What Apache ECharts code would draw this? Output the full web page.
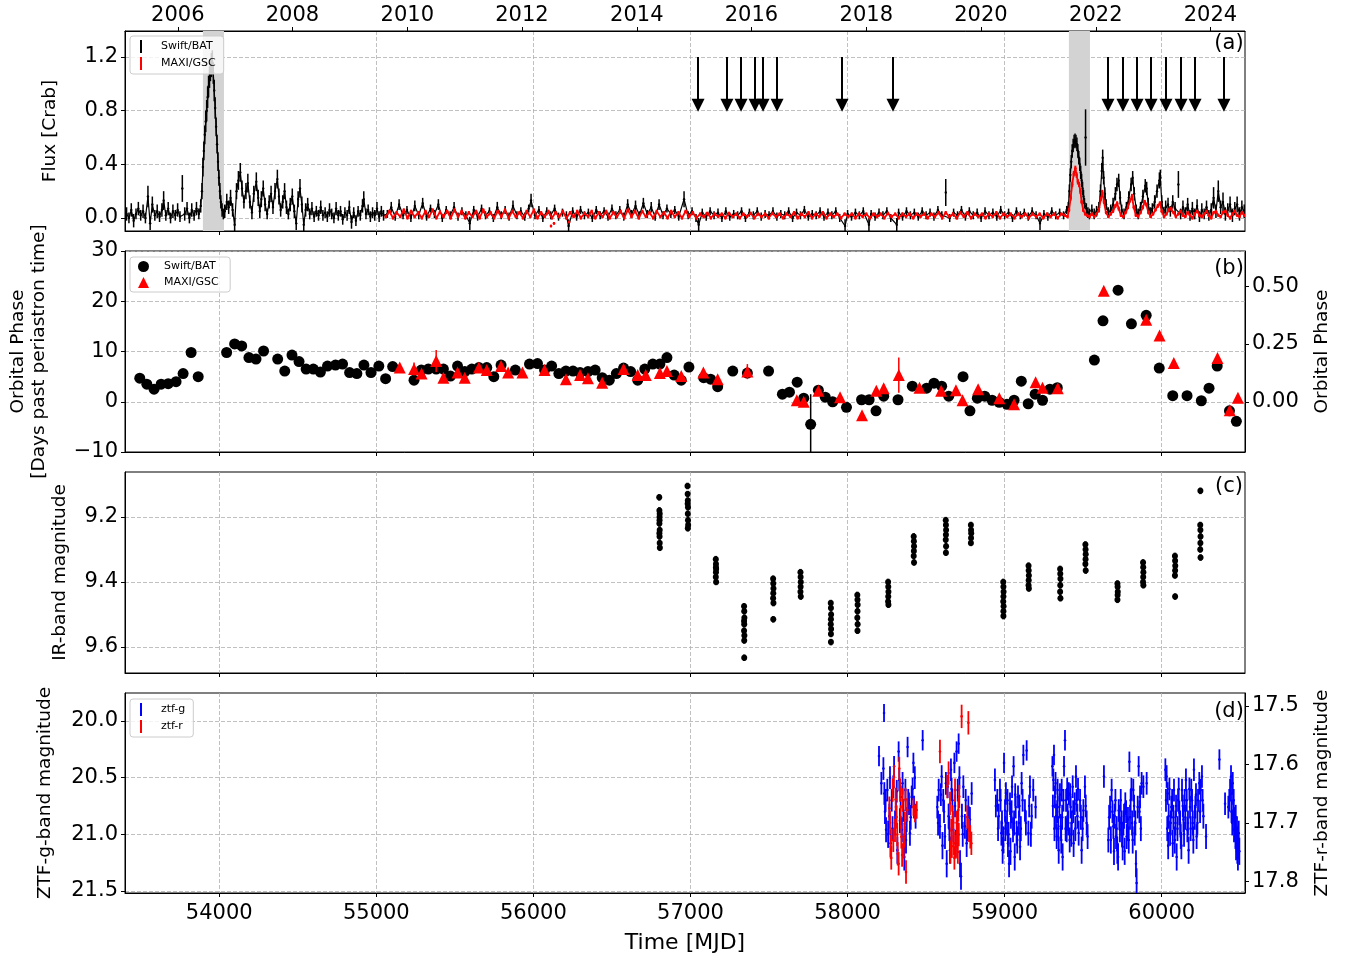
<!DOCTYPE html>
<html>
<head>
<meta charset="utf-8">
<title>Light curves</title>
<script src="https://cdn.jsdelivr.net/npm/echarts@6/dist/echarts.min.js"></script>
<style>
  html, body { margin: 0; padding: 0; background: #fff; }
  #chart { width: 1349px; height: 957px; }
</style>
</head>
<body>
<div id="chart"></div>
<script>
// ---------------- data ----------------
const mjdTicks = [54000, 55000, 56000, 57000, 58000, 59000, 60000];
const yearTicks = [53736, 54466, 55197, 55927, 56658, 57388, 58119, 58849, 59580, 60310];
const yearLabels = ["2006", "2008", "2010", "2012", "2014", "2016", "2018", "2020", "2022", "2024"];

// grey bands: giant outbursts
const outburstSpans = [[53896, 54030], [59409, 59543]];
// arrows (observation epochs) in panel (a)
const arrowT = [57048, 57232, 57322, 57411, 57462, 57551, 57965, 58289, 59658, 59753, 59843, 59932, 60027, 60123, 60212, 60396];
const arrowFrom = 1.2, arrowTo = 0.84;

// (a) Swift/BAT flux [t, flux, err]
const batLC = [
  [53410,0.03,0.05],[53425,0.0,0.04],[53440,0.06,0.05],[53455,-0.02,0.05],[53470,0.03,0.04],[53485,0.07,0.05],[53500,0.02,0.04],[53515,0.05,0.05],
  [53530,0.0,0.04],[53546,0.16,0.08],[53560,-0.04,0.05],[53574,0.1,0.06],[53590,0.02,0.04],[53605,0.05,0.05],[53620,0.01,0.04],[53635,0.06,0.05],
  [53646,0.13,0.07],[53660,0.02,0.04],[53675,0.07,0.05],[53690,0.0,0.04],[53705,0.05,0.05],[53720,0.02,0.04],[53735,0.06,0.05],[53750,0.01,0.04],
  [53765,0.22,0.1],[53780,0.03,0.05],[53795,0.07,0.05],[53810,0.0,0.04],[53825,0.06,0.05],[53840,0.02,0.04],[53855,0.07,0.05],[53870,0.03,0.04],
  [53882,0.09,0.05],[53890,0.2,0.06],[53896,0.38,0.07],[53902,0.5,0.07],[53908,0.62,0.07],[53914,0.72,0.08],[53920,0.8,0.08],[53926,0.9,0.08],
  [53932,0.98,0.08],[53938,1.05,0.08],[53944,1.1,0.08],[53950,1.14,0.09],[53956,1.16,0.09],[53962,1.08,0.08],[53968,0.95,0.08],[53974,0.82,0.08],
  [53980,0.68,0.07],[53986,0.55,0.07],[53992,0.42,0.07],[53998,0.3,0.06],[54004,0.2,0.06],[54010,0.12,0.05],[54018,0.06,0.05],[54026,0.03,0.04],
  [54035,0.05,0.05],[54048,0.12,0.06],[54060,0.08,0.05],[54072,0.15,0.06],[54085,0.06,0.05],[54098,-0.05,0.05],[54110,0.2,0.06],[54122,0.28,0.07],
  [54134,0.34,0.07],[54145,0.22,0.06],[54157,0.12,0.05],[54170,0.2,0.06],[54182,0.26,0.07],[54195,0.12,0.05],[54208,0.04,0.05],[54220,0.18,0.06],
  [54236,0.27,0.07],[54248,0.15,0.06],[54258,0.05,0.05],[54268,0.14,0.06],[54280,0.22,0.06],[54292,0.1,0.05],[54305,0.03,0.04],[54318,0.12,0.05],
  [54330,0.18,0.06],[54342,0.08,0.05],[54355,0.2,0.06],[54370,0.29,0.07],[54380,0.16,0.06],[54391,0.06,0.05],[54404,0.12,0.05],[54416,0.2,0.06],
  [54428,0.08,0.05],[54440,0.03,0.04],[54452,0.1,0.05],[54465,0.16,0.06],[54478,0.05,0.05],[54490,-0.04,0.05],[54502,0.14,0.06],[54514,0.22,0.07],
  [54526,0.1,0.06],[54538,-0.05,0.05],[54550,0.06,0.05],[54563,0.1,0.05],[54576,0.03,0.04],[54590,0.07,0.05],[54604,0.01,0.04],[54618,0.05,0.04],
  [54632,0.02,0.04],[54646,0.08,0.05],[54660,0.02,0.04],[54674,0.04,0.04],[54688,0.01,0.04],[54702,0.06,0.05],[54716,0.03,0.04],[54730,0.0,0.04],
  [54744,0.07,0.05],[54758,0.02,0.04],[54772,0.05,0.04],[54786,-0.01,0.04],[54800,0.04,0.04],[54814,0.02,0.04],[54828,0.08,0.05],[54842,-0.03,0.05],
  [54856,0.04,0.04],[54870,-0.02,0.04],[54884,0.05,0.04],[54898,0.02,0.04],[54912,0.09,0.05],[54920,0.14,0.06],[54934,0.03,0.04],[54948,0.06,0.04],
  [54962,0.01,0.04],[54976,0.04,0.04],[54990,0.02,0.04],[55004,0.07,0.05],[55018,0.01,0.04],[55032,0.05,0.04],[55046,0.02,0.04],
  [55070,0.03,0.03],[55095,0.08,0.04],[55120,0.01,0.03],[55145,0.1,0.04],[55170,0.02,0.03],[55195,0.06,0.03],[55220,0.0,0.03],[55245,0.09,0.04],
  [55270,0.02,0.03],[55295,0.11,0.04],[55320,0.01,0.03],[55345,0.07,0.03],[55370,0.03,0.03],[55395,0.1,0.04],[55420,0.0,0.03],[55445,0.06,0.03],
  [55470,0.02,0.03],[55495,0.08,0.04],[55520,0.01,0.03],[55545,0.05,0.03],[55570,0.02,0.03],[55595,-0.04,0.05],[55620,0.06,0.03],[55645,0.01,0.03],
  [55670,0.07,0.03],[55695,0.02,0.03],[55720,0.05,0.03],[55745,0.0,0.03],[55770,0.08,0.04],[55795,0.02,0.03],[55820,0.06,0.03],[55845,0.01,0.03],
  [55870,0.09,0.04],[55895,0.02,0.03],[55920,0.05,0.03],[55945,0.01,0.03],[55970,0.07,0.03],[55985,0.13,0.05],[56010,0.02,0.03],[56035,0.06,0.03],
  [56060,0.0,0.03],[56085,0.05,0.03],[56110,0.02,0.03],[56135,0.07,0.03],[56160,0.01,0.03],[56185,0.04,0.03],[56210,0.02,0.03],[56224,-0.06,0.05],
  [56250,0.05,0.03],[56275,0.01,0.03],[56300,0.06,0.03],[56325,0.02,0.03],[56350,0.04,0.03],[56375,0.0,0.03],[56400,0.06,0.03],[56425,0.02,0.03],
  [56450,0.05,0.03],[56475,0.01,0.03],[56500,0.07,0.03],[56525,0.02,0.03],[56550,0.06,0.03],[56575,0.01,0.03],[56600,0.1,0.04],[56625,0.03,0.03],
  [56650,0.09,0.04],[56675,0.02,0.03],[56700,0.11,0.04],[56725,0.03,0.03],[56750,0.08,0.04],[56775,0.01,0.03],[56800,0.1,0.04],[56825,0.02,0.03],
  [56850,0.07,0.03],[56875,0.03,0.03],[56900,0.06,0.03],[56925,0.01,0.03],[56959,0.14,0.06],[56985,0.02,0.03],[57010,0.05,0.03],[57035,0.0,0.03],
  [57052,-0.05,0.05],[57075,0.04,0.03],[57100,0.01,0.03],[57125,0.05,0.03],[57150,0.02,0.03],[57175,0.04,0.03],[57200,0.0,0.03],[57225,0.05,0.03],
  [57250,0.01,0.03],[57275,0.03,0.03],[57300,0.02,0.03],[57325,0.05,0.03],[57350,0.0,0.03],[57375,0.04,0.03],[57400,0.02,0.03],[57425,0.05,0.03],
  [57450,0.01,0.03],[57475,0.03,0.03],[57500,0.02,0.03],[57525,0.05,0.03],[57550,0.01,0.03],[57575,0.03,0.03],[57600,0.02,0.03],[57625,0.05,0.03],
  [57650,0.0,0.03],[57675,0.04,0.03],[57700,0.02,0.03],[57725,0.06,0.03],[57750,0.01,0.03],[57775,0.03,0.03],[57800,0.02,0.03],[57825,0.05,0.03],
  [57850,0.01,0.03],[57875,0.04,0.03],[57900,0.02,0.03],[57925,0.05,0.03],[57950,0.0,0.03],[57984,-0.06,0.05],[58000,0.03,0.03],[58025,0.01,0.03],
  [58050,0.04,0.03],[58075,0.02,0.03],[58100,0.05,0.03],[58136,-0.05,0.05],[58150,0.03,0.03],[58175,0.01,0.03],[58200,0.04,0.03],[58225,0.02,0.03],
  [58250,0.05,0.03],[58275,0.0,0.03],[58313,-0.05,0.05],[58325,0.04,0.03],[58350,0.01,0.03],[58375,0.05,0.03],[58400,0.02,0.03],[58425,0.04,0.03],
  [58450,0.01,0.03],[58475,0.05,0.03],[58500,0.02,0.03],[58525,0.04,0.03],[58550,0.01,0.03],[58575,0.06,0.03],[58600,0.02,0.03],[58625,0.19,0.1],
  [58650,0.0,0.03],[58675,0.04,0.03],[58700,0.02,0.03],[58725,0.06,0.03],[58750,0.01,0.03],[58775,0.05,0.03],[58800,0.02,0.03],[58825,0.04,0.03],
  [58850,0.0,0.03],[58875,0.05,0.03],[58900,0.02,0.03],[58925,0.04,0.03],[58950,0.01,0.03],[58975,0.06,0.03],[59000,0.02,0.03],[59025,0.04,0.03],
  [59050,0.0,0.03],[59075,0.05,0.03],[59100,0.02,0.03],[59125,0.04,0.03],[59150,0.01,0.03],[59175,0.05,0.03],[59200,0.02,0.03],[59225,-0.04,0.05],
  [59250,0.03,0.03],[59275,0.01,0.03],[59300,0.05,0.03],[59325,0.02,0.03],[59350,0.04,0.03],[59375,0.02,0.03],[59395,0.06,0.03],
  [59405,0.08,0.04],[59412,0.2,0.05],[59418,0.32,0.05],[59424,0.42,0.05],[59430,0.5,0.05],[59436,0.54,0.05],[59442,0.57,0.05],[59448,0.58,0.05],
  [59454,0.57,0.05],[59460,0.55,0.05],[59466,0.5,0.05],[59472,0.45,0.05],[59478,0.4,0.05],[59484,0.34,0.05],[59490,0.28,0.05],[59496,0.22,0.05],
  [59502,0.16,0.05],[59508,0.11,0.04],[59515,0.6,0.21],[59520,0.07,0.04],[59530,0.04,0.04],[59540,0.03,0.04],[59555,0.06,0.04],[59570,0.03,0.04],
  [59585,0.05,0.04],[59600,0.08,0.04],[59610,0.2,0.05],[59618,0.35,0.06],[59624,0.45,0.06],[59630,0.3,0.05],[59638,0.18,0.05],[59646,0.1,0.04],
  [59660,0.04,0.04],[59675,0.06,0.04],[59690,0.1,0.05],[59705,0.18,0.05],[59715,0.25,0.05],[59726,0.28,0.05],[59735,0.15,0.05],[59745,0.06,0.04],
  [59760,0.03,0.04],[59775,0.08,0.04],[59790,0.15,0.05],[59805,0.25,0.05],[59815,0.3,0.05],[59825,0.18,0.05],[59838,0.06,0.04],[59850,0.03,0.04],
  [59865,0.08,0.04],[59880,0.16,0.05],[59895,0.24,0.05],[59904,0.22,0.05],[59914,0.1,0.05],[59928,0.04,0.04],[59940,0.07,0.04],[59955,0.12,0.05],
  [59970,0.2,0.05],[59985,0.28,0.06],[59991,0.3,0.06],[60000,0.12,0.05],[60012,0.04,0.04],[60025,0.08,0.05],[60040,0.1,0.05],[60055,0.05,0.04],
  [60070,0.12,0.05],[60085,0.07,0.05],[60106,0.25,0.1],[60120,0.03,0.04],[60135,0.08,0.05],[60150,0.04,0.04],[60165,0.1,0.05],[60180,0.02,0.04],
  [60195,0.07,0.05],[60210,0.03,0.04],[60225,0.09,0.05],[60240,0.01,0.04],[60255,0.06,0.05],[60270,0.03,0.04],[60285,0.08,0.05],[60300,0.02,0.04],
  [60315,0.06,0.05],[60330,0.15,0.08],[60345,0.05,0.05],[60360,0.2,0.08],[60375,0.08,0.05],[60390,0.12,0.07],[60405,0.03,0.05],[60420,0.06,0.05],
  [60435,0.1,0.06],[60450,0.02,0.05],[60465,0.07,0.05],[60480,0.1,0.06],[60495,0.03,0.05],[60510,0.08,0.05],[60525,0.05,0.05]
];

// (a) MAXI/GSC flux [t, flux, err]
const maxiLC = [
  [55060,0.01,0.012],[55083,0.05,0.012],[55106,0.0,0.012],[55129,0.04,0.012],[55152,0.01,0.012],[55175,0.06,0.012],[55198,0.0,0.012],[55221,0.05,0.012],
  [55244,0.01,0.012],[55267,0.04,0.012],[55290,0.0,0.012],[55313,0.05,0.012],[55336,0.01,0.012],[55359,0.06,0.012],[55382,0.0,0.012],[55405,0.045,0.012],
  [55428,0.01,0.012],[55451,0.05,0.012],[55474,0.0,0.012],[55497,0.06,0.012],[55520,0.01,0.012],[55543,0.05,0.012],[55566,0.0,0.012],[55589,0.04,0.012],
  [55612,0.01,0.012],[55635,0.05,0.012],[55658,0.0,0.012],[55681,0.06,0.012],[55704,0.01,0.012],[55727,0.04,0.012],[55750,0.0,0.012],[55773,0.05,0.012],
  [55796,0.01,0.012],[55819,0.06,0.012],[55842,0.0,0.012],[55865,0.05,0.012],[55888,0.01,0.012],[55911,0.04,0.012],[55934,0.0,0.012],[55957,0.05,0.012],
  [55980,0.01,0.012],[56003,0.06,0.012],[56026,0.0,0.012],[56049,0.04,0.012],[56072,0.01,0.012],[56095,0.05,0.012],[56112,-0.06,0.01],[56118,0.0,0.012],
  [56131,-0.04,0.01],[56141,0.04,0.012],[56164,0.01,0.012],[56187,0.05,0.012],[56210,0.0,0.012],[56227,-0.03,0.01],[56233,0.04,0.012],[56256,0.01,0.012],
  [56279,0.05,0.012],[56302,0.0,0.012],[56325,0.035,0.012],[56348,0.01,0.012],[56371,0.05,0.012],[56394,0.0,0.012],[56417,0.04,0.012],[56440,0.01,0.012],
  [56463,0.05,0.012],[56486,0.0,0.012],[56509,0.04,0.012],[56532,0.01,0.012],[56555,0.05,0.012],[56578,0.0,0.012],[56601,0.06,0.012],[56624,0.01,0.012],
  [56647,0.05,0.012],[56670,0.0,0.012],[56693,0.05,0.012],[56716,0.01,0.012],[56739,0.04,0.012],[56762,0.0,0.012],[56785,0.05,0.012],[56808,0.01,0.012],
  [56831,0.04,0.012],[56854,0.0,0.012],[56877,0.05,0.012],[56900,0.01,0.012],[56923,0.04,0.012],[56946,0.0,0.012],[56969,0.05,0.012],[56992,0.01,0.012],
  [57015,0.04,0.012],[57038,0.0,0.012],[57061,0.03,0.012],[57084,0.01,0.012],[57107,0.035,0.012],[57130,0.0,0.012],[57153,0.03,0.012],[57176,0.01,0.012],
  [57199,0.03,0.012],[57222,0.0,0.012],[57245,0.035,0.012],[57268,0.01,0.012],[57291,0.03,0.012],[57314,0.0,0.012],[57337,0.03,0.012],[57360,0.01,0.012],
  [57383,0.035,0.012],[57406,0.0,0.012],[57429,0.03,0.012],[57452,0.01,0.012],[57475,0.03,0.012],[57498,0.0,0.012],[57521,0.035,0.012],[57544,0.01,0.012],
  [57567,0.03,0.012],[57590,0.0,0.012],[57613,0.03,0.012],[57636,0.01,0.012],[57659,0.04,0.012],[57682,0.0,0.012],[57705,0.03,0.012],[57728,0.01,0.012],
  [57751,0.04,0.012],[57774,0.0,0.012],[57797,0.03,0.012],[57820,0.01,0.012],[57843,0.04,0.012],[57866,0.0,0.012],[57889,0.03,0.012],[57912,0.01,0.012],
  [57935,0.03,0.012],[57958,0.0,0.012],[57981,0.03,0.012],[58004,0.01,0.012],[58027,0.03,0.012],[58050,0.0,0.012],[58073,0.03,0.012],[58096,0.01,0.012],
  [58119,0.03,0.012],[58142,0.0,0.012],[58165,0.03,0.012],[58188,0.01,0.012],[58211,0.03,0.012],[58234,0.0,0.012],[58257,0.035,0.012],[58280,0.01,0.012],
  [58303,0.03,0.012],[58326,0.0,0.012],[58349,0.03,0.012],[58372,0.01,0.012],[58395,0.03,0.012],[58418,0.0,0.012],[58441,0.03,0.012],[58464,0.01,0.012],
  [58487,0.03,0.012],[58510,0.0,0.012],[58533,0.03,0.012],[58556,0.01,0.012],[58579,0.04,0.012],[58602,0.0,0.012],[58625,0.04,0.012],[58648,0.01,0.012],
  [58671,0.03,0.012],[58694,0.0,0.012],[58717,0.04,0.012],[58740,0.01,0.012],[58763,0.04,0.012],[58786,0.0,0.012],[58809,0.03,0.012],[58832,0.01,0.012],
  [58855,0.03,0.012],[58878,0.0,0.012],[58901,0.03,0.012],[58924,0.01,0.012],[58947,0.04,0.012],[58970,0.0,0.012],[58993,0.03,0.012],[59016,0.01,0.012],
  [59039,0.03,0.012],[59062,0.0,0.012],[59085,0.03,0.012],[59108,0.01,0.012],[59131,0.03,0.012],[59154,0.0,0.012],[59177,0.03,0.012],[59200,0.01,0.012],
  [59223,0.03,0.012],[59246,0.0,0.012],[59269,0.03,0.012],[59292,0.01,0.012],[59315,0.03,0.012],[59338,0.0,0.012],[59361,0.03,0.012],[59384,0.02,0.012],
  [59400,0.01,0.012],[59410,0.06,0.015],[59420,0.15,0.02],[59430,0.25,0.02],[59440,0.33,0.02],[59450,0.37,0.02],[59458,0.32,0.02],[59466,0.27,0.02],
  [59474,0.25,0.02],[59482,0.2,0.02],[59490,0.12,0.015],[59500,0.06,0.015],[59512,0.03,0.012],[59525,0.02,0.012],[59540,0.01,0.012],[59555,0.03,0.012],
  [59570,0.01,0.012],[59585,0.03,0.012],[59600,0.06,0.015],[59612,0.14,0.015],[59622,0.19,0.02],[59632,0.12,0.015],[59645,0.04,0.012],[59660,0.01,0.012],
  [59675,0.03,0.012],[59690,0.05,0.012],[59705,0.09,0.015],[59716,0.11,0.015],[59726,0.07,0.015],[59740,0.02,0.012],[59755,0.01,0.012],[59770,0.04,0.012],
  [59785,0.08,0.015],[59798,0.13,0.015],[59810,0.16,0.02],[59822,0.08,0.015],[59835,0.02,0.012],[59850,0.01,0.012],[59865,0.04,0.012],[59880,0.08,0.015],
  [59892,0.12,0.015],[59902,0.1,0.015],[59915,0.04,0.012],[59930,0.01,0.012],[59945,0.03,0.012],[59960,0.06,0.012],[59975,0.09,0.015],[59988,0.11,0.015],
  [60000,0.05,0.012],[60015,0.01,0.012],[60030,0.03,0.012],[60045,0.06,0.012],[60060,0.07,0.015],[60075,0.04,0.012],[60090,0.01,0.012],[60105,0.03,0.012],
  [60120,0.05,0.012],[60135,0.02,0.012],[60150,0.01,0.012],[60165,0.04,0.012],[60180,0.02,0.012],[60195,0.0,0.012],[60210,0.03,0.012],[60225,0.05,0.012],
  [60240,0.02,0.012],[60255,0.01,0.012],[60270,0.03,0.012],[60285,0.05,0.012],[60300,0.02,0.012],[60315,0.0,0.012],[60330,0.04,0.012],[60345,0.05,0.012],
  [60360,0.02,0.012],[60375,0.01,0.012],[60390,0.04,0.012],[60405,0.05,0.012],[60420,0.02,0.012],[60435,0.0,0.012],[60450,0.03,0.012],[60465,0.05,0.012],
  [60480,0.02,0.012],[60495,0.01,0.012],[60510,0.04,0.012],[60525,0.02,0.012]
];

// (b) days past periastron [t, days, err]
const batPhase = [
  [53494,4.7,0.5],[53539,3.5,0.5],[53585,2.5,0.5],[53630,3.5,0.5],[53675,3.6,0.5],[53725,4.0,0.5],[53770,5.6,0.5],[53821,9.8,0.6],[53866,5.0,0.6],
  [54047,9.8,0.5],[54098,11.5,0.5],[54143,11.1,0.5],[54189,8.8,0.5],[54234,8.5,0.5],[54282,10.1,0.5],[54372,8.5,0.5],[54417,6.1,0.5],[54463,9.3,0.5],
  [54508,8.0,0.5],[54553,6.5,0.5],[54599,6.5,0.5],[54644,5.9,0.5],[54689,7.1,0.5],[54740,7.3,0.5],[54785,7.5,0.5],[54830,5.8,0.5],[54876,5.6,0.5],
  [54921,7.3,0.5],[54966,5.8,0.5],[55016,7.1,0.8],[55059,4.6,0.5],[55104,7.0,0.5],[55240,4.3,0.8],[55286,6.3,0.5],[55331,6.5,0.5],[55381,6.5,0.5],
  [55427,6.5,0.5],[55472,5.1,0.5],[55517,7.1,0.5],[55563,6.0,0.5],[55608,6.5,0.5],[55653,6.8,0.5],[55703,6.8,0.5],[55748,5.0,0.5],[55794,7.3,0.5],
  [55885,6.3,0.5],[55975,7.5,0.5],[56026,7.6,0.5],[56071,6.3,0.5],[56116,7.1,0.5],[56162,5.6,0.5],[56207,6.1,0.5],[56252,6.1,0.5],[56297,5.8,0.5],
  [56347,6.0,0.5],[56393,6.3,0.5],[56438,4.8,0.5],[56483,4.3,0.5],[56528,5.6,0.5],[56574,6.7,0.5],[56619,6.0,0.5],[56664,4.3,0.5],[56709,6.5,0.5],
  [56760,7.5,0.5],[56805,7.5,0.5],[56850,8.8,0.5],[56896,5.3,0.5],[56941,4.3,0.5],[56990,6.9,0.8],[57084,4.8,0.5],[57128,4.5,0.5],[57173,3.0,0.8],
  [57269,6.1,0.5],[57362,5.7,0.5],[57497,6.1,0.5],[57585,1.5,0.5],[57630,1.9,0.5],[57679,3.9,0.6],[57721,0.7,0.5],[57765,-4.5,6.0],[57814,2.3,0.5],
  [57858,0.9,0.5],[57905,0.0,0.5],[57993,-1.1,0.7],[58089,0.4,0.5],[58137,0.4,0.5],[58181,-1.8,0.5],[58230,1.1,0.5],[58321,0.4,0.5],[58412,3.1,0.5],
  [58503,2.7,0.5],[58550,3.7,0.5],[58599,3.1,0.5],[58644,1.1,0.5],[58735,5.0,0.5],[58779,-1.8,0.5],[58826,0.7,0.5],[58873,1.1,0.5],[58920,0.3,0.5],
  [58966,-0.1,0.5],[59015,-0.5,0.5],[59060,0.3,0.5],[59106,4.1,1.0],[59150,-0.4,0.5],[59194,1.5,0.5],[59241,0.3,0.5],[59288,2.5,0.5],[59335,2.8,0.5],
  [59571,8.3,0.5],[59626,16.1,0.5],[59722,22.2,0.5],[59807,15.5,0.5],[59901,17.2,0.6],[59984,6.7,1.0],[60070,1.2,0.5],[60161,1.2,0.5],[60252,0.2,0.5],
  [60301,2.7,0.5],[60353,7.1,0.5],[60431,-1.8,1.0],[60475,-3.9,0.5]
];
const maxiPhase = [
  [55149,6.8,0.5],[55240,6.5,1.3],[55288,5.6,0.6],[55381,8.1,2.2],[55427,4.8,0.5],[55517,5.8,0.5],[55563,4.8,0.5],[55653,6.8,0.5],[55703,6.3,0.5],
  [55794,7.1,0.5],[55839,5.8,0.5],[55930,5.8,0.5],[56071,6.3,0.5],[56207,4.5,0.5],[56297,5.3,0.5],[56347,4.7,0.5],[56438,3.8,0.5],[56574,6.5,0.5],
  [56664,5.3,0.5],[56715,5.3,0.5],[56805,5.7,0.5],[56850,6.1,0.5],[56941,5.1,0.5],[57082,5.8,0.5],[57173,4.5,0.5],[57362,6.0,1.5],[57677,0.3,0.5],
  [57721,0.0,0.5],[57814,2.2,0.5],[57952,0.9,0.5],[58092,-2.7,0.5],[58183,2.2,0.5],[58230,2.7,0.8],[58326,5.3,3.5],[58458,2.8,0.5],[58596,2.2,0.5],
  [58690,2.3,0.5],[58732,0.3,0.5],[58831,2.5,0.5],[58966,0.7,0.5],[59060,-0.5,0.5],[59197,3.9,0.5],[59241,2.8,0.5],[59338,2.7,0.5],[59631,22.1,0.5],
  [59901,16.3,0.5],[59986,13.2,0.5],[60077,7.7,0.5],[60355,8.7,0.7],[60433,-1.7,0.5],[60485,0.8,0.5]
];
const periodDays = 46.0; // right axis: orbital phase = days / period

// (c) IR magnitudes [t, mag, err]
const irMag = [
  [56801,9.14,0.01],[56802,9.18,0.01],[56803,9.2,0.01],[56802,9.22,0.01],[56804,9.24,0.01],[56803,9.26,0.01],[56804,9.28,0.01],[56805,9.295,0.01],[56803,9.21,0.01],[56802,9.25,0.01],[56804,9.19,0.01],
  [56981,9.105,0.01],[56982,9.13,0.01],[56983,9.15,0.01],[56984,9.17,0.01],[56983,9.19,0.01],[56984,9.21,0.01],[56985,9.225,0.01],[56982,9.16,0.01],[56983,9.235,0.01],
  [57161,9.33,0.01],[57162,9.345,0.01],[57163,9.36,0.01],[57162,9.37,0.01],[57161,9.385,0.01],[57163,9.4,0.01],[57162,9.355,0.01],
  [57341,9.475,0.01],[57342,9.49,0.01],[57343,9.51,0.01],[57342,9.53,0.01],[57341,9.55,0.01],[57343,9.565,0.01],[57342,9.58,0.01],[57342,9.633,0.01],[57341,9.52,0.01],
  [57526,9.39,0.01],[57527,9.405,0.01],[57528,9.42,0.01],[57527,9.435,0.01],[57526,9.45,0.01],[57528,9.465,0.01],[57527,9.515,0.01],
  [57700,9.37,0.01],[57701,9.385,0.01],[57702,9.4,0.01],[57701,9.415,0.01],[57700,9.43,0.01],[57702,9.445,0.01],
  [57893,9.465,0.01],[57894,9.48,0.01],[57895,9.5,0.01],[57894,9.515,0.01],[57893,9.53,0.01],[57895,9.545,0.01],[57894,9.56,0.01],[57894,9.585,0.01],
  [58062,9.44,0.01],[58063,9.455,0.01],[58064,9.47,0.01],[58063,9.49,0.01],[58062,9.51,0.01],[58064,9.53,0.01],[58063,9.55,0.01],
  [58258,9.4,0.01],[58259,9.415,0.01],[58260,9.43,0.01],[58259,9.445,0.01],[58258,9.46,0.01],[58260,9.47,0.01],
  [58421,9.26,0.01],[58422,9.275,0.01],[58423,9.29,0.01],[58422,9.305,0.01],[58421,9.32,0.01],[58423,9.34,0.01],
  [58625,9.21,0.01],[58626,9.225,0.01],[58627,9.24,0.01],[58626,9.255,0.01],[58625,9.27,0.01],[58627,9.29,0.01],[58626,9.31,0.01],
  [58785,9.225,0.01],[58786,9.24,0.01],[58787,9.25,0.01],[58786,9.265,0.01],[58785,9.28,0.01],
  [58991,9.4,0.01],[58992,9.415,0.01],[58993,9.43,0.01],[58992,9.445,0.01],[58991,9.46,0.01],[58993,9.475,0.01],[58992,9.49,0.01],[58992,9.505,0.01],
  [59152,9.35,0.01],[59153,9.365,0.01],[59154,9.38,0.01],[59153,9.395,0.01],[59152,9.41,0.01],[59154,9.42,0.01],
  [59353,9.36,0.01],[59354,9.375,0.01],[59355,9.39,0.01],[59354,9.41,0.01],[59353,9.43,0.01],[59355,9.45,0.01],
  [59514,9.285,0.01],[59515,9.3,0.01],[59516,9.315,0.01],[59515,9.33,0.01],[59514,9.345,0.01],[59516,9.365,0.01],
  [59718,9.405,0.01],[59719,9.415,0.01],[59720,9.43,0.01],[59719,9.44,0.01],[59718,9.455,0.01],
  [59881,9.34,0.01],[59882,9.355,0.01],[59883,9.37,0.01],[59882,9.385,0.01],[59881,9.4,0.01],[59883,9.41,0.01],
  [60084,9.32,0.01],[60085,9.335,0.01],[60086,9.35,0.01],[60085,9.365,0.01],[60084,9.38,0.01],[60085,9.445,0.01],
  [60246,9.12,0.01],[60245,9.225,0.01],[60246,9.24,0.01],[60247,9.26,0.01],[60246,9.28,0.01],[60245,9.3,0.01],[60247,9.325,0.01]
];

// (d) ZTF g-band [t, mag, err]
const ztfG = [
  [58200,20.31,0.09],[58232,19.93,0.08],[58228,20.42,0.1],[58234,20.64,0.1],[58238,20.8,0.11],[58245,20.96,0.11],[58253,20.61,0.1],[58266,20.84,0.11],
  [58274,21.08,0.12],[58281,20.7,0.1],[58291,20.58,0.1],[58302,20.9,0.11],[58308,20.76,0.1],[58317,21.14,0.12],[58325,20.27,0.09],[58329,20.52,0.1],
  [58338,20.67,0.1],[58346,20.96,0.11],[58355,20.79,0.1],[58361,21.2,0.12],[58368,20.61,0.1],[58376,20.87,0.11],[58382,20.23,0.09],[58391,20.73,0.1],
  [58397,20.99,0.11],[58408,20.67,0.1],[58419,20.37,0.09],[58423,20.76,0.1],[58433,20.84,0.11],[58478,20.17,0.09],
  [58215,20.55,0.1],[58242,20.7,0.1],[58258,21.0,0.12],[58270,20.5,0.1],[58286,20.95,0.11],[58296,20.4,0.09],[58313,20.62,0.1],[58333,20.88,0.11],
  [58350,20.55,0.1],[58372,21.05,0.12],[58386,20.7,0.1],[58402,20.85,0.11],[58414,20.6,0.1],[58428,20.5,0.1],
  [58571,20.76,0.1],[58580,20.61,0.1],[58588,20.93,0.11],[58599,20.49,0.1],[58609,20.7,0.1],[58620,21.02,0.11],[58631,21.26,0.12],[58637,20.58,0.1],
  [58643,20.84,0.11],[58652,21.14,0.12],[58658,20.43,0.1],[58667,20.7,0.1],[58673,20.96,0.11],[58680,20.37,0.09],[58688,21.08,0.12],[58694,20.27,0.09],
  [58701,20.61,0.1],[58707,20.2,0.09],[58716,21.26,0.12],[58722,21.37,0.12],[58728,20.84,0.11],[58737,20.58,0.1],[58747,20.93,0.11],[58758,21.08,0.12],
  [58769,20.76,0.1],[58779,20.87,0.11],[58790,20.64,0.1],
  [58576,20.9,0.11],[58594,20.65,0.1],[58604,21.1,0.12],[58614,20.8,0.1],[58626,20.55,0.1],[58648,20.95,0.11],[58662,20.6,0.1],[58684,20.75,0.1],
  [58698,20.9,0.11],[58712,20.5,0.1],[58733,21.0,0.11],[58752,20.7,0.1],[58764,20.95,0.11],
  [58938,20.52,0.1],[58953,20.7,0.1],[58962,20.84,0.11],[58970,20.61,0.1],[58979,20.99,0.11],[58987,21.14,0.12],[58996,20.37,0.09],[59002,20.79,0.1],
  [59008,20.64,0.1],[59015,20.9,0.11],[59021,21.08,0.12],[59028,21.26,0.12],[59034,20.73,0.1],[59040,20.84,0.11],[59047,20.58,0.1],[59053,20.96,0.11],
  [59057,20.4,0.09],[59064,21.2,0.12],[59070,20.76,0.1],[59076,20.99,0.11],[59085,20.67,0.1],[59091,20.9,0.11],[59098,21.11,0.12],[59108,20.55,0.1],
  [59119,20.3,0.09],[59129,20.79,0.1],[59140,20.26,0.09],[59151,20.99,0.11],[59161,20.58,0.1],[59172,20.84,0.11],[59182,20.61,0.1],[59197,20.76,0.1],
  [58944,20.75,0.1],[58958,20.95,0.11],[58974,20.7,0.1],[58983,20.9,0.11],[58992,21.05,0.12],[59005,20.95,0.11],[59018,20.7,0.1],[59025,21.0,0.11],
  [59037,21.15,0.12],[59044,20.8,0.1],[59060,20.9,0.11],[59067,20.65,0.1],[59080,21.05,0.12],[59094,20.75,0.1],[59103,20.95,0.11],[59114,20.7,0.1],
  [59135,20.9,0.11],[59156,20.75,0.1],[59167,21.0,0.11],
  [59304,20.4,0.09],[59310,20.52,0.1],[59314,20.3,0.09],[59320,20.67,0.1],[59327,20.84,0.11],[59331,21.02,0.11],[59337,20.61,0.1],[59344,21.14,0.12],
  [59348,20.76,0.1],[59357,20.93,0.11],[59363,20.61,0.1],[59369,21.2,0.12],[59378,20.4,0.09],[59384,20.17,0.09],[59391,20.7,0.1],[59395,20.96,0.11],
  [59401,20.84,0.11],[59408,20.64,0.1],[59414,21.05,0.11],[59420,20.76,0.1],[59427,20.9,0.11],[59433,20.58,0.1],[59439,21.08,0.12],[59446,20.73,0.1],
  [59454,20.49,0.1],[59463,20.84,0.11],[59471,20.99,0.11],[59480,20.7,0.1],[59490,21.14,0.12],[59501,20.79,0.1],[59511,20.58,0.1],[59522,20.9,0.11],
  [59528,21.02,0.11],
  [59307,20.75,0.1],[59317,20.95,0.11],[59324,20.55,0.1],[59334,20.8,0.1],[59341,20.95,0.11],[59352,20.65,0.1],[59360,21.05,0.12],[59366,20.85,0.11],
  [59374,20.7,0.1],[59388,20.95,0.11],[59398,20.6,0.1],[59405,20.9,0.11],[59417,20.65,0.1],[59424,21.0,0.11],[59436,20.8,0.1],[59450,20.95,0.11],
  [59458,20.7,0.1],[59467,20.6,0.1],[59485,20.85,0.11],[59496,20.95,0.11],[59516,20.75,0.1],
  [59632,20.49,0.1],[59660,21.05,0.11],[59671,20.76,0.1],[59681,20.61,0.1],[59692,20.93,0.11],[59700,20.84,0.11],[59709,21.02,0.11],[59717,21.14,0.12],
  [59726,20.79,0.1],[59734,20.96,0.11],[59743,20.9,0.11],[59751,21.11,0.12],[59760,20.84,0.11],[59768,20.73,0.1],[59777,21.02,0.11],[59785,20.87,0.11],
  [59794,20.36,0.09],[59802,20.7,0.1],[59811,20.9,0.11],[59819,20.61,0.1],[59828,20.99,0.11],[59836,21.26,0.12],[59840,21.43,0.13],[59847,20.76,0.1],
  [59853,20.4,0.09],[59862,20.67,0.1],[59872,20.55,0.1],[59883,20.58,0.1],[59904,20.55,0.1],
  [59665,20.85,0.11],[59676,21.05,0.12],[59686,20.8,0.1],[59696,21.15,0.12],[59705,20.7,0.1],[59713,20.95,0.11],[59722,21.2,0.12],[59730,20.85,0.11],
  [59739,20.7,0.1],[59747,21.0,0.11],[59756,20.9,0.11],[59764,21.15,0.12],[59773,20.8,0.1],[59781,20.95,0.11],[59790,21.05,0.12],[59798,20.85,0.11],
  [59807,20.6,0.1],[59815,21.05,0.12],[59824,20.75,0.1],[59832,20.9,0.11],[59858,20.8,0.1],[59867,20.95,0.11],
  [60023,20.43,0.1],[60031,20.49,0.1],[60038,20.64,0.1],[60044,20.84,0.11],[60053,20.99,0.11],[60061,20.76,0.1],[60070,21.08,0.12],[60078,20.61,0.1],
  [60087,20.9,0.11],[60095,21.2,0.12],[60104,20.7,0.1],[60112,20.81,0.11],[60121,21.02,0.11],[60129,20.61,0.1],[60138,20.87,0.11],[60146,20.7,0.1],
  [60154,20.52,0.1],[60163,20.96,0.11],[60171,21.14,0.12],[60180,20.76,0.1],[60188,20.61,0.1],[60197,20.9,0.11],[60205,20.43,0.1],[60214,20.76,0.1],
  [60222,21.02,0.11],[60231,20.7,0.1],[60239,20.55,0.1],[60248,20.61,0.1],[60256,20.49,0.1],[60265,20.84,0.11],[60282,21.02,0.11],
  [60027,20.7,0.1],[60035,20.95,0.11],[60041,21.1,0.12],[60049,20.6,0.1],[60057,20.9,0.11],[60066,20.7,0.1],[60074,20.85,0.11],[60083,21.05,0.12],
  [60091,20.75,0.1],[60100,20.95,0.11],[60108,20.6,0.1],[60117,20.9,0.11],[60125,21.1,0.12],[60134,20.75,0.1],[60142,21.0,0.11],[60150,20.85,0.11],
  [60159,20.7,0.1],[60167,20.9,0.11],[60176,20.6,0.1],[60184,20.95,0.11],[60193,20.7,0.1],[60201,21.05,0.12],[60210,20.85,0.11],[60218,20.65,0.1],
  [60227,20.9,0.11],[60244,20.8,0.1],[60260,20.7,0.1],
  [60367,20.34,0.09],[60403,20.73,0.1],[60424,20.76,0.1],[60435,20.61,0.1],[60441,20.49,0.1],[60447,20.64,0.1],[60452,20.55,0.1],[60456,20.79,0.1],
  [60460,20.96,0.11],[60464,20.87,0.11],[60469,21.02,0.11],[60473,21.11,0.12],[60477,21.05,0.11],[60481,21.14,0.12],[60485,21.2,0.12],[60490,20.99,0.11],
  [60430,20.7,0.1],[60444,20.8,0.1],[60449,20.9,0.11],[60458,20.7,0.1],[60466,20.95,0.11],[60471,20.85,0.11],[60479,20.95,0.11],[60483,21.05,0.12],
  [60487,21.1,0.12],[60494,21.15,0.12]
];
// (d) ZTF r-band [t, mag, err]
const ztfR = [
  [58266,17.675,0.02],[58274,17.741,0.02],[58287,17.644,0.02],[58295,17.621,0.02],[58302,17.713,0.02],[58312,17.69,0.02],[58319,17.753,0.02],
  [58329,17.607,0.02],[58334,17.644,0.02],[58342,17.724,0.02],[58351,17.661,0.02],[58357,17.741,0.02],[58365,17.701,0.02],[58372,17.784,0.02],
  [58380,17.678,0.02],[58419,17.673,0.015],[58429,17.684,0.015],[58440,17.678,0.015],
  [58270,17.7,0.02],[58278,17.76,0.02],[58291,17.73,0.02],[58306,17.66,0.02],[58316,17.72,0.02],[58325,17.77,0.02],[58338,17.69,0.02],
  [58347,17.755,0.02],[58361,17.72,0.02],[58369,17.66,0.02],
  [58588,17.578,0.02],[58635,17.638,0.02],[58643,17.615,0.02],[58652,17.667,0.02],[58660,17.713,0.02],[58669,17.69,0.02],[58677,17.735,0.02],
  [58684,17.644,0.02],[58690,17.741,0.02],[58699,17.718,0.02],[58705,17.678,0.02],[58711,17.655,0.02],[58726,17.518,0.02],[58769,17.529,0.02],
  [58762,17.69,0.02],[58773,17.713,0.02],[58781,17.724,0.02],[58788,17.735,0.02],
  [58655,17.75,0.02],[58664,17.74,0.02],[58673,17.7,0.02],[58680,17.76,0.02],[58694,17.7,0.02],[58702,17.75,0.02],[58708,17.72,0.02]
];

// ---------------- layout ----------------
const xMin = 53400, xMax = 60530;
const font = 'DejaVu Sans';
const gridColor = '#b0b0b0';
const panels = [
  { top: 31, height: 200 },
  { top: 251, height: 201 },
  { top: 472, height: 201 },
  { top: 693, height: 200 }
];

function errorBars(color, lineWidth, dotR) {
  return function (params, api) {
    const t = api.value(0), v = api.value(1), e = api.value(2);
    const lo = api.coord([t, v - e]);
    const hi = api.coord([t, v + e]);
    const children = [{
      type: 'line',
      shape: { x1: lo[0], y1: lo[1], x2: hi[0], y2: hi[1] },
      style: { stroke: color, lineWidth: lineWidth }
    }];
    if (dotR > 0) {
      const p = api.coord([t, v]);
      children.push({ type: 'circle', shape: { cx: p[0], cy: p[1], r: dotR }, style: { fill: color } });
    }
    return { type: 'group', children: children };
  };
}

function xAxisFor(gridIndex, showLabels) {
  return {
    type: 'value', gridIndex: gridIndex, min: xMin, max: xMax,
    axisLine: { show: true, onZero: false, lineStyle: { color: '#000', width: 1 } },
    axisTick: { show: true, inside: false, length: 4, customValues: mjdTicks, lineStyle: { color: '#000' } },
    axisLabel: { show: showLabels, customValues: mjdTicks, fontSize: 21, fontFamily: font, color: '#000', margin: 10, formatter: v => String(v) },
    splitLine: { show: true, lineStyle: { color: gridColor, type: [4, 2], width: 0.8 } },
    name: showLabels ? 'Time [MJD]' : '', nameLocation: 'middle', nameGap: 39,
    nameTextStyle: { fontSize: 22, fontFamily: font, color: '#000' }
  };
}

function yAxisFor(o) {
  return {
    type: 'value', gridIndex: o.grid, position: o.pos || 'left', min: o.min, max: o.max, inverse: !!o.inverse,
    axisLine: { show: true, onZero: false, lineStyle: { color: '#000', width: 1 } },
    axisTick: { show: true, inside: false, length: 4, customValues: o.ticks, lineStyle: { color: '#000' } },
    axisLabel: { customValues: o.ticks, fontSize: 21, fontFamily: font, color: '#000', margin: 7, formatter: o.fmt },
    splitLine: { show: !!o.split, lineStyle: { color: gridColor, type: [4, 2], width: 0.8 } },
    name: o.name, nameLocation: 'middle', nameGap: o.gap, nameRotate: 90,
    nameTextStyle: { fontSize: 18.5, fontFamily: font, color: '#000', lineHeight: 21 }
  };
}

const minus = v => (v < 0 ? '\u2212' + Math.abs(v) : String(v));

const chart = echarts.init(document.getElementById('chart'), null, { renderer: 'canvas' });

const option = {
  animation: false,
  backgroundColor: '#fff',
  grid: panels.map(p => ({
    left: 125, right: 104, top: p.top, height: p.height,
    show: true, borderColor: '#000', borderWidth: 1, backgroundColor: 'transparent'
  })),
  xAxis: [
    xAxisFor(0, false),
    {
      type: 'value', gridIndex: 0, position: 'top', min: xMin, max: xMax,
      axisLine: { show: true, onZero: false, lineStyle: { color: '#000', width: 1 } },
      axisTick: { show: true, inside: false, length: 4, customValues: yearTicks, lineStyle: { color: '#000' } },
      axisLabel: { customValues: yearTicks, fontSize: 21, fontFamily: font, color: '#000', margin: 5,
        formatter: v => yearLabels[yearTicks.indexOf(v)] },
      splitLine: { show: false }
    },
    xAxisFor(1, false),
    xAxisFor(2, false),
    xAxisFor(3, true)
  ],
  yAxis: [
    yAxisFor({ grid: 0, min: -0.097, max: 1.394, ticks: [0, 0.4, 0.8, 1.2], fmt: v => v.toFixed(1), split: true,
      name: 'Flux [Crab]', gap: 64 }),
    yAxisFor({ grid: 1, min: -10, max: 30, ticks: [-10, 0, 10, 20, 30], fmt: minus, split: true,
      name: 'Orbital Phase\n[Days past periastron time]', gap: 75 }),
    yAxisFor({ grid: 1, pos: 'right', min: -10 / periodDays, max: 30 / periodDays, ticks: [0, 0.25, 0.5], fmt: v => v.toFixed(2),
      name: 'Orbital Phase', gap: 67 }),
    yAxisFor({ grid: 2, min: 9.062, max: 9.68, inverse: true, ticks: [9.2, 9.4, 9.6], fmt: v => v.toFixed(1), split: true,
      name: 'IR-band magnitude', gap: 54 }),
    yAxisFor({ grid: 3, min: 19.753, max: 21.518, inverse: true, ticks: [20, 20.5, 21, 21.5], fmt: v => v.toFixed(1), split: true,
      name: 'ZTF-g-band magnitude', gap: 69 }),
    yAxisFor({ grid: 3, pos: 'right', min: 17.478, max: 17.82, inverse: true, ticks: [17.5, 17.6, 17.7, 17.8], fmt: v => v.toFixed(1),
      name: 'ZTF-r-band magnitude', gap: 67 })
  ],
  legend: [
    {
      left: 130, top: 36, orient: 'vertical', itemWidth: 2, itemHeight: 13, itemGap: 4, padding: [4, 8, 4, 10],
      backgroundColor: 'rgba(255,255,255,0.8)', borderColor: '#cccccc', borderWidth: 1, borderRadius: 3,
      textStyle: { fontSize: 11, fontFamily: font, color: '#000', padding: [0, 0, 0, 14] },
      data: [{ name: 'Swift/BAT', icon: 'rect' }, { name: 'MAXI/GSC', icon: 'rect' }], selectedMode: false
    },
    {
      left: 130, top: 257, orient: 'vertical', itemWidth: 11, itemHeight: 11, itemGap: 5, padding: [4, 8, 4, 8],
      backgroundColor: 'rgba(255,255,255,0.8)', borderColor: '#cccccc', borderWidth: 1, borderRadius: 3,
      textStyle: { fontSize: 11, fontFamily: font, color: '#000', padding: [0, 0, 0, 10] },
      data: [{ name: 'Swift/BAT ', icon: 'circle' }, { name: 'MAXI/GSC ', icon: 'triangle' }], selectedMode: false
    },
    {
      left: 130, top: 699, orient: 'vertical', itemWidth: 2, itemHeight: 13, itemGap: 4, padding: [4, 8, 4, 10],
      backgroundColor: 'rgba(255,255,255,0.8)', borderColor: '#cccccc', borderWidth: 1, borderRadius: 3,
      textStyle: { fontSize: 11, fontFamily: font, color: '#000', padding: [0, 0, 0, 14] },
      data: [{ name: 'ztf-g', icon: 'rect' }, { name: 'ztf-r', icon: 'rect' }], selectedMode: false
    }
  ],
  graphic: [
    { type: 'text', x: 1229, y: 44, style: { text: '(a)', font: '21px DejaVu Sans', fill: '#000', align: 'center', verticalAlign: 'middle' } },
    { type: 'text', x: 1229, y: 269, style: { text: '(b)', font: '21px DejaVu Sans', fill: '#000', align: 'center', verticalAlign: 'middle' } },
    { type: 'text', x: 1229, y: 487, style: { text: '(c)', font: '21px DejaVu Sans', fill: '#000', align: 'center', verticalAlign: 'middle' } },
    { type: 'text', x: 1229, y: 712, style: { text: '(d)', font: '21px DejaVu Sans', fill: '#000', align: 'center', verticalAlign: 'middle' } }
  ],
  series: [
    // (a) background bands and arrows
    {
      name: 'marks', type: 'line', xAxisIndex: 0, yAxisIndex: 0, data: [], z: 1, silent: true,
      markArea: {
        silent: true, itemStyle: { color: '#d3d3d3' }, label: { show: false },
        data: outburstSpans.map(s => [{ xAxis: s[0] }, { xAxis: s[1] }])
      },
      markLine: {
        silent: true, symbol: ['none', 'triangle'], symbolSize: 13, label: { show: false },
        lineStyle: { color: '#000', width: 2, type: 'solid' },
        emphasis: { disabled: true },
        data: arrowT.map(t => [{ coord: [t, arrowFrom] }, { coord: [t, arrowTo] }])
      }
    },
    // dense sampling drawn as a thin trace under the error bars (isolated spikes left as bars only)
    {
      name: 'bat-trace', type: 'line', xAxisIndex: 0, yAxisIndex: 0, z: 2, silent: true, showSymbol: false,
      lineStyle: { color: '#000', width: 1.2 }, clip: true,
      data: batLC.filter(d => d[2] < 0.1).map(d => [d[0], d[1]])
    },
    {
      name: 'Swift/BAT', type: 'custom', xAxisIndex: 0, yAxisIndex: 0, z: 3, clip: true, silent: true,
      itemStyle: { color: '#000' }, encode: { x: 0, y: 1 },
      renderItem: errorBars('#000', 1.5, 1.2), data: batLC
    },
    {
      name: 'maxi-trace', type: 'line', xAxisIndex: 0, yAxisIndex: 0, z: 4, silent: true, showSymbol: false,
      lineStyle: { color: '#ff0000', width: 1.8 }, clip: true,
      data: maxiLC.filter(d => d[1] > -0.02).map(d => [d[0], d[1]])
    },
    {
      name: 'MAXI/GSC', type: 'custom', xAxisIndex: 0, yAxisIndex: 0, z: 5, clip: true, silent: true,
      itemStyle: { color: '#ff0000' }, encode: { x: 0, y: 1 },
      renderItem: errorBars('#ff0000', 2, 1.3), data: maxiLC
    },
    // (b)
    {
      name: 'bat-b-err', type: 'custom', xAxisIndex: 2, yAxisIndex: 1, z: 3, clip: true, silent: true,
      encode: { x: 0, y: 1 }, renderItem: errorBars('#000', 1.5, 0), data: batPhase
    },
    {
      name: 'Swift/BAT ', type: 'scatter', xAxisIndex: 2, yAxisIndex: 1, z: 4, silent: true,
      symbol: 'circle', symbolSize: 11, itemStyle: { color: '#000', opacity: 1 },
      data: batPhase.map(d => [d[0], d[1]])
    },
    {
      name: 'maxi-b-err', type: 'custom', xAxisIndex: 2, yAxisIndex: 1, z: 5, clip: true, silent: true,
      encode: { x: 0, y: 1 }, renderItem: errorBars('#ff0000', 1.5, 0), data: maxiPhase
    },
    {
      name: 'MAXI/GSC ', type: 'scatter', xAxisIndex: 2, yAxisIndex: 1, z: 6, silent: true,
      symbol: 'triangle', symbolSize: 12, itemStyle: { color: '#ff0000', opacity: 1 },
      data: maxiPhase.map(d => [d[0], d[1]])
    },
    // (c)
    {
      name: 'IR', type: 'custom', xAxisIndex: 3, yAxisIndex: 3, z: 3, clip: true, silent: true,
      encode: { x: 0, y: 1 }, renderItem: errorBars('#000', 2.6, 3), data: irMag
    },
    // (d)
    {
      name: 'ztf-g', type: 'custom', xAxisIndex: 4, yAxisIndex: 4, z: 3, clip: true, silent: true,
      itemStyle: { color: '#0000ff' }, encode: { x: 0, y: 1 },
      renderItem: errorBars('#0000ff', 1.8, 1.3), data: ztfG
    },
    {
      name: 'ztf-r', type: 'custom', xAxisIndex: 4, yAxisIndex: 5, z: 4, clip: true, silent: true,
      itemStyle: { color: '#ff0000' }, encode: { x: 0, y: 1 },
      renderItem: errorBars('#ff0000', 1.8, 1.3), data: ztfR
    }
  ]
};

chart.setOption(option);
window.addEventListener('resize', () => chart.resize());
</script>
</body>
</html>
